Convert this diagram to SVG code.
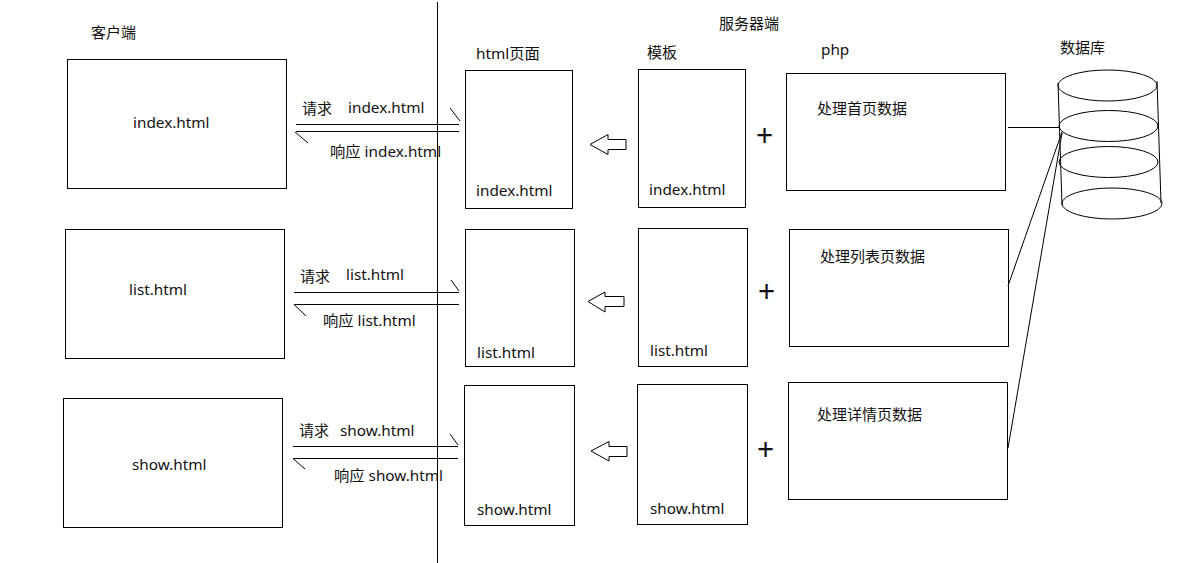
<svg xmlns="http://www.w3.org/2000/svg" width="1204" height="563" viewBox="0 0 1204 563">
<style>
text{font-family:"Noto Sans","Noto Sans CJK SC",sans-serif;font-size:15.3px;fill:#111}
.c{font-size:15px}
.b{fill:#fff;stroke:#000;stroke-width:1}
.l{fill:none;stroke:#000;stroke-width:1}
.p{font-size:30px}
</style>
<rect width="1204" height="563" fill="#fff"/>
<g id="labels">
<text class="c" x="91" y="38">客户端</text><text class="c" x="719" y="29">服务器端</text><text x="476" y="59">html页面</text><text class="c" x="647" y="58">模板</text><text x="821" y="55">php</text><text class="c" x="1060" y="53">数据库</text>
</g>
<g id="client-index"><rect class="b" x="67.500" y="59.500" width="219" height="129"/><text x="133" y="128">index.html</text></g>
<g id="client-list"><rect class="b" x="65.500" y="229.500" width="219" height="129"/><text x="129" y="295">list.html</text></g>
<g id="client-show"><rect class="b" x="63.500" y="398.500" width="219" height="129"/><text x="132" y="470">show.html</text></g>
<g id="page-index"><rect class="b" x="465.500" y="70.500" width="107" height="138"/><text x="476" y="196">index.html</text></g>
<g id="page-list"><rect class="b" x="465.500" y="229.500" width="109" height="137"/><text x="477" y="358">list.html</text></g>
<g id="page-show"><rect class="b" x="464.500" y="385.500" width="110" height="140"/><text x="477" y="515">show.html</text></g>
<g id="tpl-index"><rect class="b" x="638.500" y="69.500" width="107" height="138"/><text x="649" y="195">index.html</text></g>
<g id="tpl-list"><rect class="b" x="638.500" y="228.500" width="109" height="138"/><text x="650" y="356">list.html</text></g>
<g id="tpl-show"><rect class="b" x="637.500" y="384.500" width="110" height="140"/><text x="650" y="514">show.html</text></g>
<g id="php-index"><rect class="b" x="786.500" y="73.500" width="219" height="117"/><text class="c" x="817" y="114">处理首页数据</text></g>
<g id="php-list"><rect class="b" x="789.500" y="229.500" width="219" height="117"/><text class="c" x="820" y="262">处理列表页数据</text></g>
<g id="php-show"><rect class="b" x="788.500" y="382.500" width="219" height="117"/><text class="c" x="817" y="420">处理详情页数据</text></g>
<g id="db">
<path class="l" d="M1058 83L1062 205M1157 81L1161 203"/>
<ellipse class="l" cx="1107.500" cy="85.500" rx="49.500" ry="15.500"/>
<ellipse class="l" cx="1108.500" cy="126" rx="49.500" ry="15.500"/>
<ellipse class="l" cx="1108.500" cy="162" rx="49.500" ry="15.500"/>
<ellipse class="l" cx="1112" cy="203.500" rx="50" ry="15.500"/>
</g>
<g id="connectors">
<path class="l" d="M437.500 2V563"/>
<path class="l" d="M296 124.500H459M450 108L460 121M296 131.500H459M295 132L308 143"/>
<path class="l" d="M294 292.500H459M451 280L459 291M294 304.500H459M294 304.500L306 316"/>
<path class="l" d="M293 446.500H458M450 434L458 445M293 458.500H458M293 458.500L305 469"/>
<path class="l" d="M1008 127.500H1059M1008 286L1062 132M1008 448L1062 133"/>
<path class="b" d="M590 144.500L608 134.500V139.500H626V149.500H608V154.500Z"/>
<path class="b" d="M588 301.500L605 292V296.500H624V306.500H605V312Z"/>
<path class="b" d="M591 451L609 441.500V446.500H627V456.500H609V461Z"/>
</g>
<g id="plus"><text class="p" x="756" y="146">+</text><text class="p" x="758" y="302">+</text><text class="p" x="757" y="460">+</text></g>
<g id="conn-labels">
<text class="c" x="302" y="114">请求</text><text x="348" y="113">index.html</text><text x="330" y="157">响应 index.html</text>
<text class="c" x="300" y="282">请求</text><text x="346" y="280">list.html</text><text x="323" y="326">响应 list.html</text>
<text class="c" x="299" y="436">请求</text><text x="340" y="436">show.html</text><text x="334" y="481">响应 show.html</text>
</g>
</svg>
